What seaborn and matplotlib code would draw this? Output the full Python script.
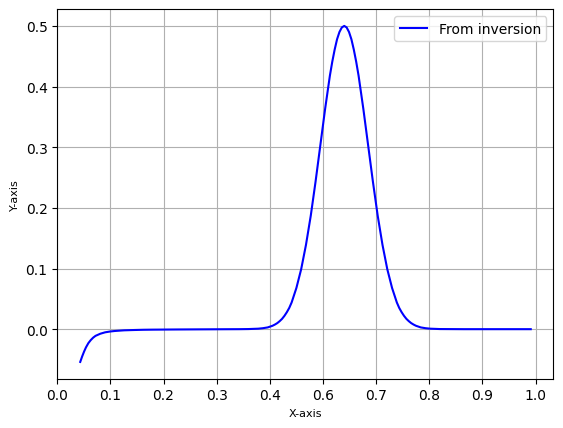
import numpy as np
import pandas as pd
import matplotlib
matplotlib.use('Agg')
import matplotlib.pyplot as plt
import seaborn as sns

# Valores
x_vals = [0.048, 0.052, 0.056, 0.060, 0.065, 0.070, 0.075, 0.080, 0.090, 0.100,
          0.110, 0.120, 0.140, 0.160, 0.180, 0.200, 0.250, 0.300, 0.350, 0.380,
          0.400, 0.420, 0.430, 0.440, 0.450, 0.455, 0.460, 0.465, 0.470, 0.475,
          0.480, 0.485, 0.490, 0.500, 0.510, 0.520, 0.530, 0.540, 0.550, 0.560,
          0.570, 0.575, 0.580, 0.585, 0.590, 0.595, 0.600, 0.605, 0.610, 0.615,
          0.620, 0.625, 0.630, 0.640, 0.650, 0.660, 0.670, 0.680, 0.690, 0.700,
          0.710, 0.715, 0.720, 0.725, 0.730, 0.735, 0.740, 0.745, 0.750, 0.760,
          0.770, 0.780, 0.800, 0.850, 0.900, 0.950, 0.990]
y_vals = [-0.054, -0.045, -0.037, -0.030, -0.023, -0.018, -0.014, -0.011, -0.0075, -0.0052,
          -0.0039, -0.0030, -0.0019, -0.0014, -0.0010, -0.0008, -0.0005, -0.0003, -0.0001, 0.0,
          0.0002, 0.0008, 0.0016, 0.0029, 0.0056, 0.0076, 0.010, 0.0132, 0.017, 0.022,
          0.028, 0.035, 0.044, 0.068, 0.099, 0.139, 0.187, 0.243, 0.303, 0.363,
          0.418, 0.441, 0.461, 0.478, 0.490, 0.4975, 0.500, 0.4975, 0.490, 0.478,
          0.461, 0.441, 0.418, 0.363, 0.303, 0.243, 0.187, 0.139, 0.099, 0.068,
          0.044, 0.035, 0.028, 0.022, 0.017, 0.0132, 0.010, 0.0076, 0.0056, 0.0029,
          0.0016, 0.0008, 0.0002, 0.0, 0.0, 0.0, 0.0]

tick_labels = ['0.0', '0.1', '0.2', '0.3', '0.4', '0.6', '0.7', '0.8', '0.9', '1.0']

dados = pd.DataFrame({'x': x_vals, 'y': y_vals})

fig, ax = plt.subplots(figsize=(6.4, 4.8), dpi=100)
sns.lineplot(data=dados, x='x', y='y', color='blue', label='From inversion', ax=ax)
ax.set_xticks(np.linspace(0, 1, 10))
ax.set_xticklabels(tick_labels)
ax.set_xlabel('X-axis', fontsize=8)
ax.set_ylabel('Y-axis', fontsize=8)
ax.grid(True)
ax.legend(loc='upper right')
plt.savefig('out.png', dpi=100, bbox_inches='tight')
